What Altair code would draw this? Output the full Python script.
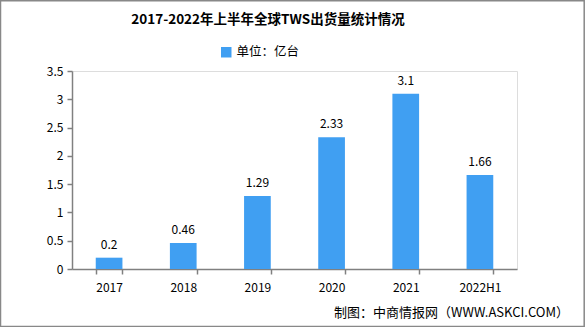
import altair as alt
import pandas as pd

years = ["2017", "2018", "2019", "2020", "2021", "2022H1"]
values = [0.2, 0.46, 1.29, 2.33, 3.1, 1.66]
value_labels = ["0.2", "0.46", "1.29", "2.33", "3.1", "1.66"]
y_ticks = [0, 0.5, 1, 1.5, 2, 2.5, 3, 3.5]
series_name = "单位：亿台"
title_text = "2017-2022年上半年全球TWS出货量统计情况"
source_text = "制图：中商情报网（WWW.ASKCI.COM）"

df = pd.DataFrame({"year": years, "value": values, "label": value_labels,
                   "series": [series_name] * len(years)})

W, H = 445, 198
font = "Noto Sans CJK SC"

x = alt.X("year:N", sort=years, title=None,
          scale=alt.Scale(paddingInner=0.64, paddingOuter=0.32),
          axis=alt.Axis(labelAngle=0, labelFont=font, labelFontSize=12, labelColor="#000",
                        labelPadding=8, domainColor="#808080", tickColor="#808080",
                        tickSize=5, tickBand="extent", domainWidth=1.5, tickWidth=1.5))
y = alt.Y("value:Q", title=None,
          scale=alt.Scale(domain=[0, 3.5], nice=False),
          axis=alt.Axis(values=y_ticks, grid=False, labelOverlap=False, format="~g",
                        labelFont=font, labelFontSize=12, labelColor="#000",
                        domainColor="#808080", tickColor="#808080", tickSize=5,
                        labelPadding=4, domainWidth=1.5, tickWidth=1.5))

bars = alt.Chart(df).mark_bar(color="#409ff2").encode(
    x=x, y=y,
    color=alt.Color("series:N", scale=alt.Scale(range=["#409ff2"]),
                    legend=alt.Legend(title=None, orient="none", legendX=148, legendY=-25,
                                      symbolType="square", symbolSize=110,
                                      labelFont=font, labelFontSize=12.5, labelColor="#000",
                                      symbolStrokeWidth=0))
)

labels = alt.Chart(df).mark_text(baseline="bottom", dy=-6, font=font, fontSize=12,
                                 color="#000").encode(
    x=x, y=y, text="label:N")

single = alt.Data(values=[{"k": 1}])
title = alt.Chart(single).mark_text(align="center", baseline="middle", font=font,
                                    fontSize=13.5, fontWeight="bold", color="#000").encode(
    x=alt.value(196), y=alt.value(-51), text=alt.value(title_text))
footer = alt.Chart(single).mark_text(align="right", baseline="middle", font=font,
                                     fontSize=13, color="#000").encode(
    x=alt.value(497), y=alt.value(242), text=alt.value(source_text))
frame = alt.Chart(single).mark_rect(fill=None, stroke="#888888", strokeWidth=1.5).encode(
    x=alt.value(-71.5), x2=alt.value(512.2), y=alt.value(-70.3), y2=alt.value(255.5))

chart = alt.layer(frame, bars, labels, title, footer).properties(
    width=W, height=H,
    padding={"left": 72, "top": 71, "right": 68, "bottom": 58},
    autosize=alt.AutoSizeParams(type="none"),
).configure_view(stroke=None).configure(background="white")

chart.save("out.html", embed_options={"renderer": "svg", "actions": False})
